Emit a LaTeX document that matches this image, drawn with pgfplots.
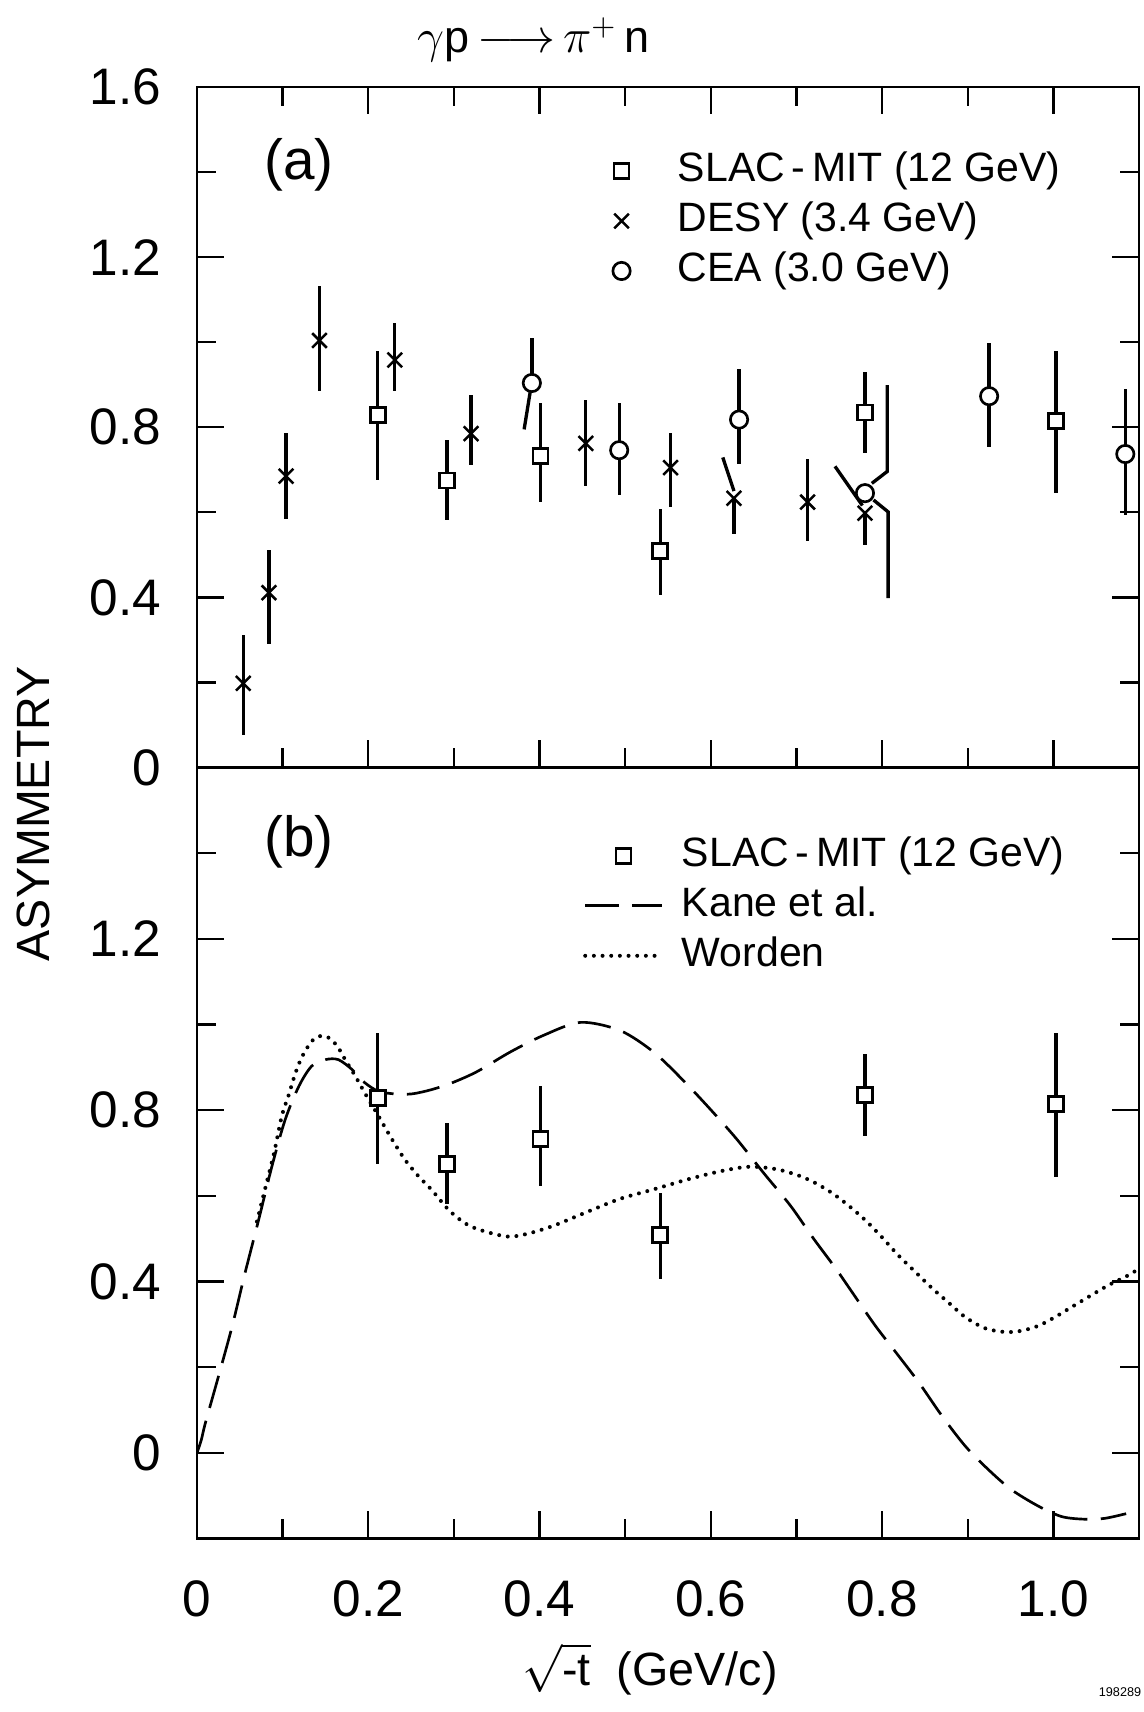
\documentclass[border=0pt]{standalone}
\usepackage{fontspec}
\setmainfont{Liberation Sans}
\usepackage{pgfplots}
\pgfplotsset{compat=1.18}
\usepackage{pgfplotstable}

% SLAC-MIT (12 GeV)
\pgfplotstableread{
x y ep em
0.211 0.829 0.151 0.154
0.292 0.675 0.094 0.094
0.401 0.733 0.124 0.109
0.541 0.509 0.098 0.103
0.780 0.835 0.096 0.096
1.003 0.814 0.166 0.169
}\slac

% DESY (3.4 GeV)
\pgfplotstableread{
x y ep em
0.054 0.198 0.113 0.121
0.084 0.411 0.101 0.120
0.104 0.685 0.101 0.101
0.143 1.004 0.127 0.119
0.231 0.958 0.086 0.072
0.320 0.785 0.091 0.074
0.454 0.762 0.103 0.101
0.553 0.705 0.081 0.092
0.627 0.633 0.000 0.085
0.713 0.624 0.101 0.092
0.780 0.598 0.000 0.075
}\desy

% CEA (3.0 GeV)
\pgfplotstableread{
x y ep em
0.391 0.904 0.106 0.000
0.493 0.746 0.112 0.106
0.633 0.818 0.120 0.105
0.780 0.645 0.000 0.000
0.925 0.873 0.126 0.120
1.084 0.737 0.152 0.144
}\cea

\pgfplotsset{
  panel/.style={
    scale only axis, width=282.6pt, xmin=0, xmax=1.1,
    axis line style={line width=0.7pt},
    tick style={black, line width=0.7pt},
    major tick length=8.2pt, minor tick length=5.8pt,
    tick align=inside,
    xtick={0,0.2,0.4,0.6,0.8,1.0},
    minor xtick={0.1,0.3,0.5,0.7,0.9},
    ytick pos=both, yticklabel pos=left,
    /pgf/number format/assume math mode=true,
    ticklabel style={font=\fontsize{15.4}{18}\selectfont, inner sep=1pt},
    yticklabel style={xshift=-9.5pt},
    xticklabel style={yshift=-11.5pt},
    legend cell align=left,
    legend image code/.code={\draw[##1] (0pt,0pt) -- (23pt,0pt);},
    legend style={draw=none, fill=none, inner sep=0pt, outer sep=0pt,
      anchor=north west, row sep=3.4pt, column sep=5.4pt,
      font=\fontsize{12.3}{14}\selectfont,
      nodes={inner sep=0pt, text height=9pt, text depth=2.6pt}},
  },
  markleg/.style={legend image code/.code={%
      \path[draw=none, fill=none] (0pt,0pt) -- (23pt,0pt);%
      \draw[##1] plot[only marks] coordinates {(11.5pt,0pt)};}},
  errs/.style={only marks, mark=*, mark size=0pt,
    mark options={draw=none, fill=none}, forget plot,
    error bars/.cd, y dir=both, y explicit, error mark=none,
    error bar style={line width=1pt, draw=black, solid}},
  seg/.style={black, line width=1pt, mark=none, forget plot},
  sqmark/.style={only marks, mark=square*, mark size=2.25pt,
    mark options={fill=white, draw=black, line width=0.8pt, solid}, markleg},
  xmark/.style={only marks, mark=x, mark size=3.1pt,
    mark options={draw=black, line width=0.75pt, solid}, markleg},
  omark/.style={only marks, mark=*, mark size=2.6pt,
    mark options={fill=white, draw=black, line width=0.8pt, solid}, markleg},
  kane/.style={black, line width=0.8pt, dash pattern=on 10pt off 4pt},
  worden/.style={black, line width=1.2pt, line cap=round, dash pattern=on 0pt off 2.6pt},
}

\begin{document}
\begin{tikzpicture}
\useasboundingbox (-59.1pt,-52.05pt) rectangle (283.8pt,461.55pt);

% ---------------- panel (a) ----------------
\begin{axis}[panel, at={(0pt,231.3pt)}, anchor=south west, height=204.15pt,
  ymin=0, ymax=1.6,
  ytick={0,0.4,0.8,1.2,1.6}, yticklabels={0,0.4,0.8,1.2,1.6},
  minor ytick={0.2,0.6,1.0,1.4},
  xtick pos=both, xticklabels={},
  legend style={at={(axis cs:0.451,1.448)}}]
\addplot[errs] table[x=x, y=y, y error plus=ep, y error minus=em] {\slac};
\addplot[errs] table[x=x, y=y, y error plus=ep, y error minus=em] {\desy};
\addplot[errs] table[x=x, y=y, y error plus=ep, y error minus=em] {\cea};
% displaced / slanted error bars
\addplot[seg] coordinates {(0.389,0.882) (0.382,0.795)};
\addplot[seg] coordinates {(0.614,0.729) (0.627,0.650)};
\addplot[seg] coordinates {(0.745,0.708) (0.777,0.616)};
\addplot[seg] coordinates {(0.806,0.899) (0.806,0.696) (0.788,0.668)};
\addplot[seg] coordinates {(0.790,0.629) (0.807,0.601) (0.807,0.398)};
\addplot[sqmark] table[x=x, y=y] {\slac};
\addlegendentry{SLAC\,-\,MIT (12 GeV)}
\addplot[xmark] table[x=x, y=y] {\desy};
\addlegendentry{DESY (3.4 GeV)}
\addplot[omark] table[x=x, y=y] {\cea};
\addlegendentry{CEA (3.0 GeV)}
\node at (axis cs:0.119,1.416) {\fontsize{17}{20}\selectfont (a)};
\end{axis}

% ---------------- panel (b) ----------------
\begin{axis}[panel, at={(0pt,0pt)}, anchor=south west, height=231.3pt,
  ymin=-0.2, ymax=1.6,
  ytick={0,0.4,0.8,1.2}, yticklabels={0,0.4,0.8,1.2},
  minor ytick={0.2,0.6,1.0,1.4},
  xtick pos=left, xticklabels={0,0.2,0.4,0.6,0.8,1.0},
  legend style={at={(axis cs:0.451,1.439)}}]
\addplot[kane, smooth, forget plot] coordinates {
(0,0) (0.005,0.03) (0.0097,0.069) (0.025,0.178) (0.041,0.295) (0.056,0.419)
(0.072,0.544) (0.0875,0.669) (0.103,0.778) (0.119,0.856) (0.134,0.903)
(0.150,0.918) (0.165,0.918) (0.181,0.895) (0.196,0.864) (0.212,0.844)
(0.231,0.838) (0.251,0.838) (0.274,0.848) (0.298,0.864) (0.327,0.890)
(0.366,0.936) (0.405,0.975) (0.448,1.005) (0.494,0.986) (0.533,0.936)
(0.568,0.869) (0.599,0.803) (0.630,0.733) (0.661,0.655) (0.693,0.577)
(0.720,0.500) (0.746,0.430) (0.765,0.375) (0.792,0.297) (0.819,0.227)
(0.843,0.164) (0.870,0.086) (0.897,0.016) (0.924,-0.039) (0.951,-0.086)
(0.983,-0.125) (1.010,-0.149) (1.037,-0.155) (1.060,-0.153) (1.085,-0.142)};
\addplot[worden, smooth, forget plot] coordinates {
(0.070,0.540)
(0.080,0.620) (0.090,0.700) (0.099,0.786) (0.107,0.835) (0.115,0.887) (0.123,0.926)
(0.134,0.961) (0.144,0.973) (0.154,0.969) (0.164,0.949) (0.173,0.918)
(0.185,0.879) (0.196,0.840) (0.212,0.786) (0.228,0.731) (0.243,0.684)
(0.259,0.645) (0.274,0.614) (0.294,0.567) (0.313,0.536) (0.331,0.520)
(0.362,0.505) (0.385,0.511) (0.416,0.530) (0.455,0.562) (0.494,0.593)
(0.533,0.615) (0.576,0.640) (0.615,0.659) (0.646,0.668) (0.677,0.662)
(0.703,0.647) (0.722,0.630) (0.742,0.606) (0.761,0.577) (0.781,0.542)
(0.800,0.503) (0.819,0.461) (0.839,0.422) (0.858,0.385) (0.878,0.350)
(0.897,0.317) (0.920,0.291) (0.944,0.282) (0.963,0.285) (0.983,0.297)
(1.002,0.317) (1.021,0.340) (1.041,0.364) (1.064,0.391) (1.087,0.414)
(1.100,0.430)};
\addplot[errs] table[x=x, y=y, y error plus=ep, y error minus=em] {\slac};
\addplot[sqmark] table[x=x, y=y] {\slac};
\addlegendentry{SLAC\,-\,MIT (12 GeV)}
\addlegendimage{kane}
\addlegendentry{Kane et al.}
\addlegendimage{worden}
\addlegendentry{Worden}
\node at (axis cs:0.119,1.426) {\fontsize{17}{20}\selectfont (b)};
\end{axis}

% titles and labels
\node at (101pt,449.6pt) {\fontsize{13.5}{16}\selectfont $\gamma$p$\,{\longrightarrow}\,\pi^{+}$\,n};
\node[rotate=90] at (-49.2pt,217.4pt) {\fontsize{14}{17}\selectfont ASYMMETRY};
\node[inner sep=0pt] at (135.9pt,-40.5pt) {\fontsize{14}{17}\selectfont \smash{$\sqrt{\mbox{-t}}$}\ \ (GeV/c)};
\node at (276.9pt,-46.05pt) {\fontsize{3.8}{4.5}\selectfont 198289};
\end{tikzpicture}
\end{document}
